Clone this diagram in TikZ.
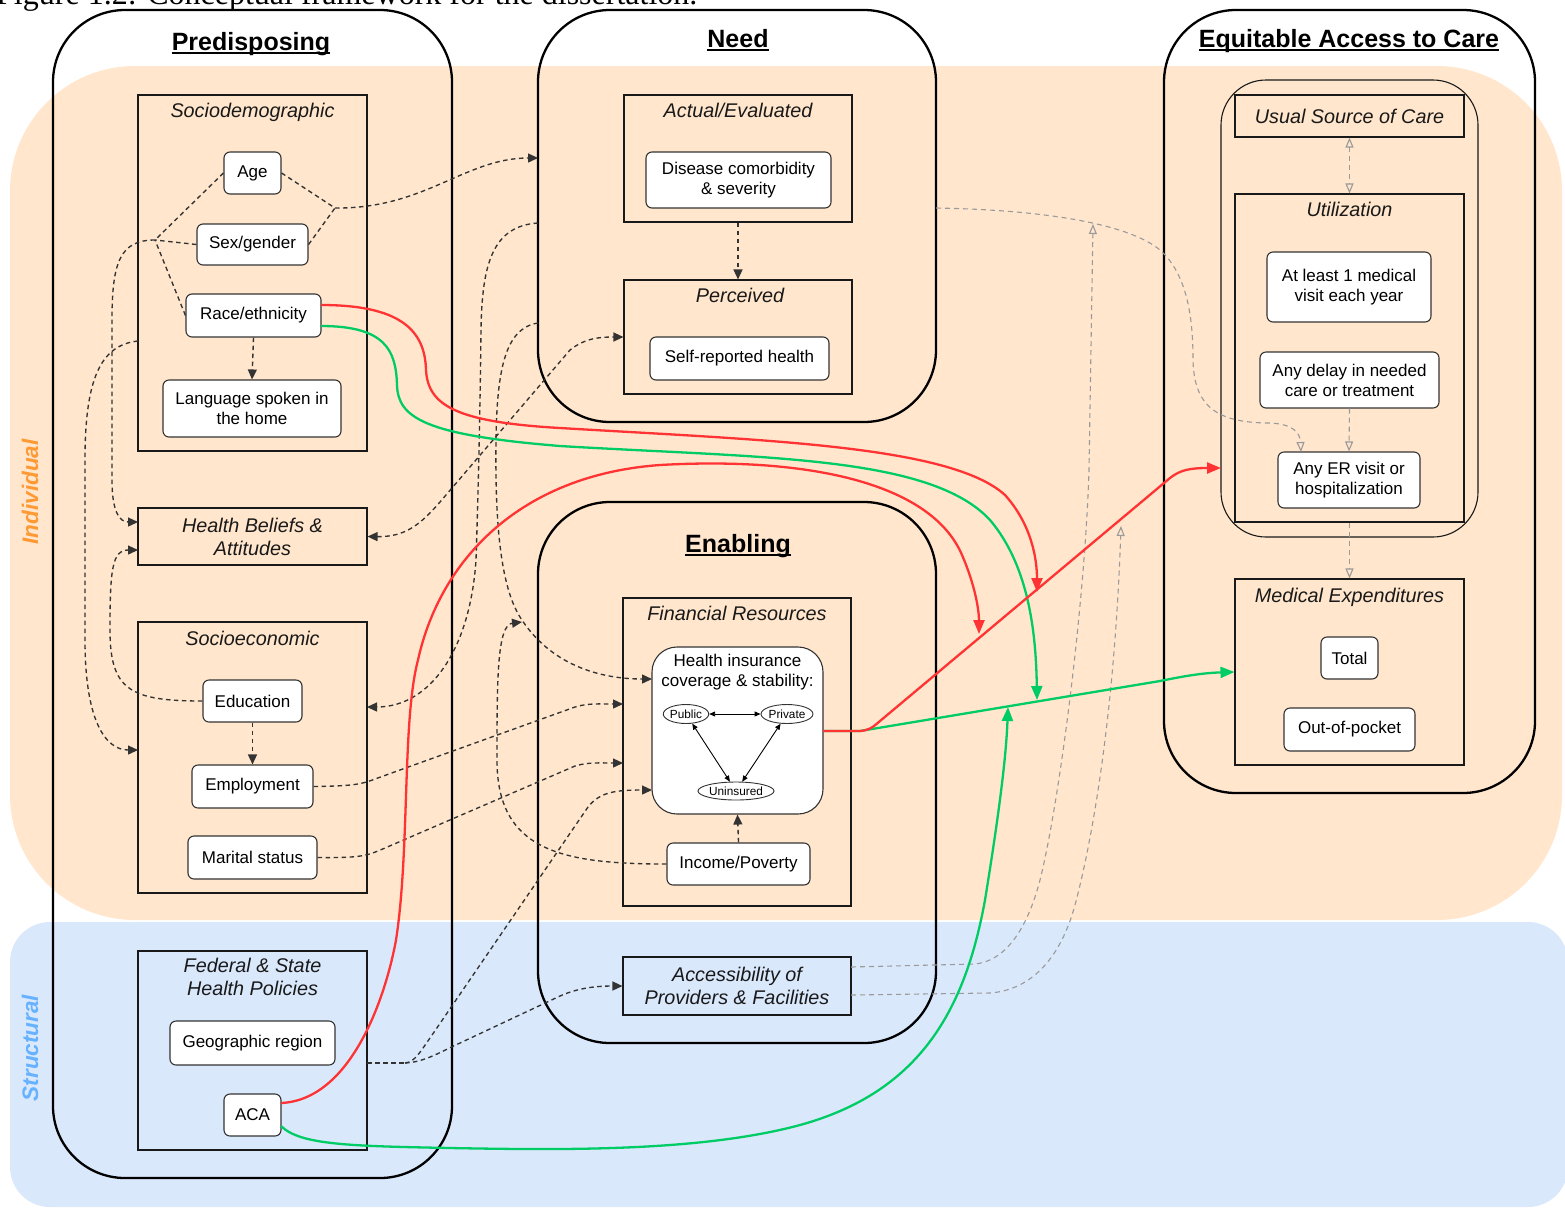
\documentclass[tikz,border=0pt]{standalone}
\usepackage{fontspec}
\setmainfont{Liberation Sans}
\newfontfamily\capfont{Liberation Serif}
\usetikzlibrary{arrows.meta,shapes.geometric}

\definecolor{indbg}{HTML}{FFE6CC}
\definecolor{strbg}{HTML}{DAE8FC}
\definecolor{indtx}{HTML}{FF9933}
\definecolor{strtx}{HTML}{66B2FF}
\definecolor{redl}{HTML}{FF3333}
\definecolor{grnl}{HTML}{00CC66}
\definecolor{dk}{HTML}{333333}
\definecolor{gl}{HTML}{9A9A9A}

\newcommand{\fItem}{\fontsize{17}{20}\selectfont}
\newcommand{\fHead}{\fontsize{19.8}{23}\selectfont\itshape}
\newcommand{\fTitle}{\fontsize{25}{30}\selectfont\bfseries}
\newcommand{\fSmall}{\fontsize{11.8}{13}\selectfont}
\newsavebox\ulbox
\newcommand{\ulin}[1]{\sbox\ulbox{#1}\rlap{\rule[-3.6pt]{\wd\ulbox}{1.8pt}}\usebox\ulbox}

\begin{document}
\begin{tikzpicture}[x=1pt,y=-1pt,
 grp/.style={draw=black, line width=2.3pt, rounded corners=72pt, inner sep=0pt},
 subbox/.style={draw=black!90, line width=1.1pt, inner sep=0pt},
 item/.style={draw=dk, line width=1.1pt, rounded corners=6pt, fill=white, align=center, font=\fItem, inner sep=0pt},
 head/.style={font=\fHead, align=center, inner sep=0pt, text=black!90},
 ttl/.style={font=\fTitle, inner sep=0pt},
 ell/.style={draw=dk, ellipse, line width=0.9pt, inner sep=0pt, font=\fSmall, fill=white},
 dl/.style={draw=dk, line width=1.35pt, dash pattern=on 4.5pt off 3.5pt},
 tip/.style={-{Triangle[length=10pt,width=9pt]}},
 btip/.style={{Triangle[length=10pt,width=9pt]}-{Triangle[length=10pt,width=9pt]}},
 gdl/.style={draw=gl, line width=1.1pt, dash pattern=on 5pt off 4pt},
 gtip/.style={-{Triangle[open,length=10pt,width=8pt]}},
 gbtip/.style={{Triangle[open,length=10pt,width=8pt]}-{Triangle[open,length=10pt,width=8pt]}},
 rl/.style={draw=redl, line width=2.3pt, -{Triangle[length=14pt,width=11pt]}},
 gnl/.style={draw=grnl, line width=2.3pt, -{Triangle[length=14pt,width=11pt]}},
 small/.style={draw=black, line width=0.9pt, {Triangle[length=6pt,width=5pt]}-{Triangle[length=6pt,width=5pt]}},
]
\useasboundingbox (0,0) rectangle (1565,1208);
\clip (0,0) rectangle (1565,1208);

% caption (cut off at top, as in the reference)
\node[anchor=base west, font=\capfont\fontsize{32}{36}\selectfont, inner sep=0pt] (cap) at (-4,4) {Figure 1.2: Conceptual framework for the dissertation.};

% background bands
\fill[indbg, rounded corners=125pt] (10,66) rectangle (1562,920);
\fill[strbg, rounded corners=40pt] (10,922) rectangle (1568,1207);
\node[rotate=90, font=\fontsize{22.5}{26}\selectfont\bfseries\itshape, text=indtx, inner sep=0pt] (lInd) at (30,492) {Individual};
\node[rotate=90, font=\fontsize{22.5}{26}\selectfont\bfseries\itshape, text=strtx, inner sep=0pt] (lStr) at (30,1048) {Structural};

% group containers
\node[grp, minimum width=399pt, minimum height=1168pt] (gP) at (252.5,594) {};
\node[grp, minimum width=398pt, minimum height=412pt] (gN) at (737,216) {};
\node[grp, minimum width=398pt, minimum height=541pt] (gE) at (737,772.5) {};
\node[grp, minimum width=371pt, minimum height=783pt] (gA) at (1349.5,401.5) {};
\node[ttl, anchor=base] (tP) at (251,50) {\ulin{Predisposing}};
\node[ttl, anchor=base] (tN) at (738,47) {\ulin{Need}};
\node[ttl, anchor=base] (tE) at (738,552) {\ulin{Enabling}};
\node[ttl, anchor=base] (tA) at (1349,47) {\ulin{Equitable Access to Care}};

% sub boxes - Predisposing
\node[subbox, minimum width=229pt, minimum height=356pt] (sSD) at (252.5,273) {};
\node[head, anchor=base] (hSD) at (252.5,117) {Sociodemographic};
\node[subbox, head, minimum width=229pt, minimum height=57pt] (sHB) at (252.5,536.5) {Health Beliefs \&\\Attitudes};
\node[subbox, minimum width=229pt, minimum height=271pt] (sSE) at (252.5,757.5) {};
\node[head, anchor=base] (hSE) at (252.5,645) {Socioeconomic};
\node[subbox, minimum width=229pt, minimum height=199pt] (sFS) at (252.5,1050.5) {};
\node[head] (hFS) at (252.5,977) {Federal \& State\\Health Policies};

% sub boxes - Need
\node[subbox, minimum width=228pt, minimum height=127pt] (sAE) at (738,158.5) {};
\node[head, anchor=base] (hAE) at (738,117) {Actual/Evaluated};
\node[subbox, minimum width=228pt, minimum height=114pt] (sPE) at (738,337) {};
\node[head, anchor=base] (hPE) at (740,302) {Perceived};

% sub boxes - Enabling
\node[subbox, minimum width=228pt, minimum height=308pt] (sFR) at (737,752) {};
\node[head, anchor=base] (hFR) at (737,620) {Financial Resources};
\node[subbox, head, minimum width=228pt, minimum height=58pt] (sAC) at (737,986) {Accessibility of\\Providers \& Facilities};

% sub boxes - Equitable access
\node[draw=black!90, line width=1.1pt, rounded corners=45pt, minimum width=257pt, minimum height=457pt, inner sep=0pt] (cUt) at (1349.5,308.5) {};
\node[subbox, head, minimum width=229pt, minimum height=42pt] (sUS) at (1349.5,116) {Usual Source of Care};
\node[subbox, minimum width=229pt, minimum height=328pt] (sUZ) at (1349.5,358) {};
\node[head, anchor=base] (hUZ) at (1349.5,216) {Utilization};
\node[subbox, minimum width=229pt, minimum height=186pt] (sME) at (1349.5,672) {};
\node[head, anchor=base] (hME) at (1349.5,602) {Medical Expenditures};

% items
\node[item, minimum width=57pt, minimum height=42pt] (age) at (252.5,173) {Age};
\node[item, minimum width=111pt, minimum height=41pt] (sex) at (252.5,244.5) {Sex/gender};
\node[item, minimum width=135pt, minimum height=43pt] (race) at (253.5,315.5) {Race/ethnicity};
\node[item, minimum width=178pt, minimum height=57pt] (lang) at (252,408.5) {Language spoken in\\the home};
\node[item, minimum width=99pt, minimum height=42pt] (edu) at (252.5,701) {Education};
\node[item, minimum width=121pt, minimum height=43pt] (emp) at (252.5,786.5) {Employment};
\node[item, minimum width=129pt, minimum height=43pt] (mar) at (252.5,857.5) {Marital status};
\node[item, minimum width=165pt, minimum height=44pt] (geo) at (252.5,1043) {Geographic region};
\node[item, minimum width=57pt, minimum height=42pt] (aca) at (252.5,1115) {ACA};
\node[item, minimum width=185pt, minimum height=56pt] (dis) at (738.5,180) {Disease comorbidity\\\& severity};
\node[item, minimum width=179pt, minimum height=43pt] (srh) at (739.5,358.5) {Self-reported health};
\node[item, rounded corners=25pt, minimum width=171pt, minimum height=167pt] (hi) at (737.5,730.5) {};
\node[font=\fItem, align=center, inner sep=0pt] (hiT) at (737.5,672) {Health insurance\\coverage \& stability:};
\node[ell, minimum width=43pt, minimum height=19pt] (pub) at (686,714) {Public};
\node[ell, minimum width=44pt, minimum height=19pt] (pri) at (787,714) {Private};
\node[ell, minimum width=64pt, minimum height=18pt] (uni) at (736,791) {Uninsured};
\node[item, minimum width=143pt, minimum height=42pt] (inc) at (738.5,864) {Income/Poverty};
\node[item, minimum width=164pt, minimum height=70pt] (vis) at (1349,287) {At least 1 medical\\visit each year};
\node[item, minimum width=179pt, minimum height=56pt] (del) at (1349.5,380) {Any delay in needed\\care or treatment};
\node[item, minimum width=142pt, minimum height=56pt] (er) at (1349,480) {Any ER visit or\\hospitalization};
\node[item, minimum width=57pt, minimum height=42pt] (tot) at (1349.5,658) {Total};
\node[item, minimum width=131pt, minimum height=43pt] (oop) at (1349.5,729.5) {Out-of-pocket};

% arrows inside health insurance box
\draw[small] (pub) -- (pri);
\draw[small] (pub) -- (uni);
\draw[small] (pri) -- (uni);

% free connector ends
\coordinate (jA) at (335,208);
\coordinate (jB) at (155,240);
\coordinate (nA) at (538,158);
\coordinate (hbA) at (138,522);
\coordinate (hbB) at (138,550);
\coordinate (sdL) at (138,341);
\coordinate (seL) at (138,750);
\coordinate (seR) at (367,707);
\coordinate (nL1) at (538,223);
\coordinate (nL2) at (538,323);
\coordinate (hiW1) at (652,679);
\coordinate (hiW2) at (652,790);
\coordinate (frW1) at (623,704);
\coordinate (frW2) at (623,763);
\coordinate (fsR) at (367,1063);
\coordinate (jF) at (405,1063);
\coordinate (enIn) at (522,622);
\coordinate (nR) at (936,208);
\coordinate (erIn) at (1301,452);
\coordinate (acE1) at (851,967);
\coordinate (acE2) at (851,995);
\coordinate (gEnd) at (1093,224);
\coordinate (rEnd) at (1121,526);
\coordinate (rcR1) at (321,305);
\coordinate (rcR2) at (321,326);
\coordinate (acaR1) at (281,1103);
\coordinate (acaR2) at (281,1126);
\coordinate (hiE) at (823,731);
\coordinate (utW) at (1221,468);
\coordinate (tR1) at (1037,592);
\coordinate (tR2) at (979,634);
\coordinate (tG1) at (1037,700);
\coordinate (tG2) at (1008,707);

% black dashed connectors
\draw[dl] (age.east) -- (jA);
\draw[dl] (sex.east) -- (jA);
\draw[dl,tip] (jA) .. controls (425,209) and (465,158) .. (nA);
\draw[dl] (age.west) -- (jB);
\draw[dl] (sex.west) -- (jB);
\draw[dl] (race.west) -- (jB);
\draw[dl,tip] (jB) .. controls (120,240) and (112,262) .. (112,320) -- (112,480) .. controls (112,513) and (120,522) .. (hbA);
\draw[dl,tip] (sdL) .. controls (100,345) and (85,380) .. (85,460) -- (85,640) .. controls (85,720) and (105,750) .. (seL);
\draw[dl,tip] (edu.west) .. controls (130,701) and (110,690) .. (110,630) .. controls (110,570) and (112,550) .. (hbB);
\draw[dl,tip] (race.south) -- (lang.north);
\draw[dl,tip] (edu.south) -- (emp.north);
\draw[dl,tip] (sAE.south) -- (sPE.north);
\draw[dl,tip] (inc.north) -- (hi.south);
\draw[dl,btip] (sHB.east) .. controls (405,537) and (420,525) .. (440,502) -- (570,350) .. controls (585,338) and (600,337) .. (sPE.west);
\draw[dl,tip] (nL1) .. controls (492,226) and (482,265) .. (481,330) .. controls (480,420) and (478,500) .. (476,560) .. controls (470,650) and (430,707) .. (seR);
\draw[dl,tip] (nL2) .. controls (505,328) and (497,370) .. (496,440) .. controls (495,520) and (500,585) .. (520,617) .. controls (550,665) and (600,679) .. (hiW1);
\draw[dl,tip] (inc.west) .. controls (560,864) and (497,850) .. (497,760) .. controls (497,680) and (497,625) .. (enIn);
\draw[dl,tip] (emp.east) .. controls (355,786) and (362,784) .. (375,779) -- (575,707) .. controls (588,703) and (600,704) .. (frW1);
\draw[dl,tip] (mar.east) .. controls (358,858) and (365,856) .. (378,851) -- (575,766) .. controls (588,762) and (600,763) .. (frW2);
\draw[dl] (fsR) -- (jF);
\draw[dl,tip] (jF) .. controls (415,1062) and (420,1052) .. (430,1038) -- (588,807) .. controls (600,792) and (615,790) .. (hiW2);
\draw[dl,tip] (jF) .. controls (425,1062) and (440,1052) .. (460,1043) -- (560,996) .. controls (580,987) and (600,986) .. (sAC.west);

% gray dashed connectors
\draw[gdl,gbtip] (sUS.south) -- (sUZ.north);
\draw[gdl,gtip] (del.south) -- (er.north);
\draw[gdl,gtip] (sUZ.south) -- (sME.north);
\draw[gdl,gtip] (nR) .. controls (1050,210) and (1130,225) .. (1160,250) .. controls (1188,275) and (1193,320) .. (1193,360) .. controls (1194,405) and (1215,423) .. (1270,423) .. controls (1292,424) and (1300,432) .. (erIn);
\draw[gdl,gtip] (acE1) -- (975,964) .. controls (1005,961) and (1027,930) .. (1040,880) .. controls (1060,800) and (1085,600) .. (1089,470) -- (gEnd);
\draw[gdl,gtip] (acE2) -- (990,993) .. controls (1030,990) and (1060,960) .. (1075,905) .. controls (1095,830) and (1115,700) .. (rEnd);

% green connectors
\draw[gnl] (rcR2) .. controls (385,326) and (396,350) .. (397,385) .. controls (398,418) and (425,435) .. (560,446) .. controls (760,458) and (930,455) .. (990,520) .. controls (1028,565) and (1036,630) .. (tG1);
\draw[gnl] (acaR2) .. controls (300,1145) and (350,1146) .. (450,1148) .. controls (560,1150) and (700,1152) .. (800,1125) .. controls (920,1092) and (965,1010) .. (985,900) .. controls (998,820) and (1006,760) .. (tG2);
\draw[gnl] (hiE) -- (860,731) -- (1160,681) .. controls (1180,677) and (1200,673) .. (sME.west);

% red connectors
\draw[rl] (rcR1) .. controls (400,305) and (425,330) .. (426,370) .. controls (428,405) and (455,422) .. (560,428) .. controls (760,440) and (950,445) .. (1005,495) .. controls (1032,525) and (1037,560) .. (tR1);
\draw[rl] (acaR1) .. controls (350,1100) and (385,1000) .. (396,940) .. controls (410,850) and (402,720) .. (418,660) .. controls (440,560) and (520,475) .. (660,465) .. controls (800,457) and (930,480) .. (962,555) .. controls (975,585) and (979,610) .. (tR2);
\draw[rl] (hiE) -- (858,731) .. controls (868,731) and (872,728) .. (880,721) -- (1170,478) .. controls (1180,470) and (1190,468) .. (utW);
\end{tikzpicture}
\end{document}
